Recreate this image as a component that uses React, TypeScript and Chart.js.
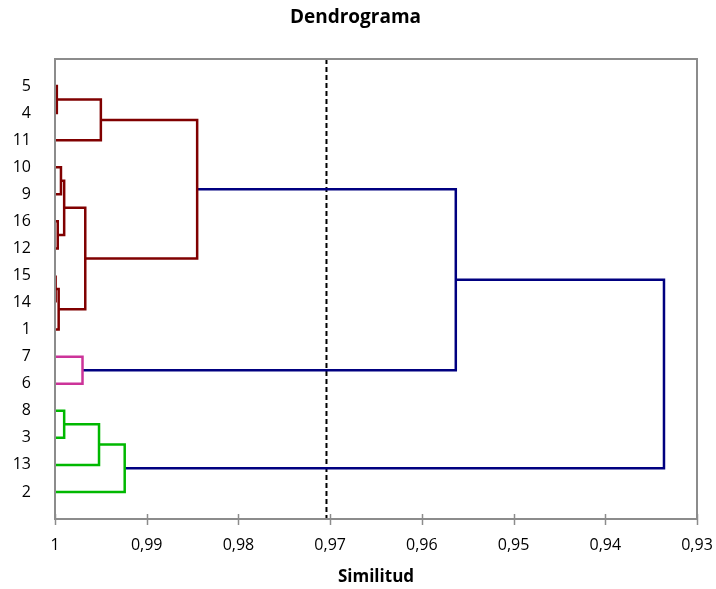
import React, { useEffect, useRef } from "react";
import { Chart, registerables } from "chart.js";

Chart.register(...registerables);

// Leaf labels, top to bottom
const leaves = ["5", "4", "11", "10", "9", "16", "12", "15", "14", "1", "7", "6", "8", "3", "13", "2"];

// Merges: ids 0..15 are leaves (in the order above), id 16+ are merges in this order
const mergeLeft = [0, 16, 3, 5, 18, 7, 21, 20, 17, 10, 24, 12, 27, 28, 26];
const mergeRight = [1, 2, 4, 6, 19, 8, 9, 22, 23, 11, 25, 13, 14, 15, 29];
const mergeHeight = [0.9998, 0.995, 0.99935, 0.9997, 0.999, 0.9999, 0.9996, 0.9967, 0.9845, 0.997, 0.9563, 0.999, 0.9952, 0.9924, 0.9336];
const mergeGroup = ["red", "red", "red", "red", "red", "red", "red", "red", "red", "pink", "navy", "green", "green", "green", "navy"];

const cutValue = 0.9704;

const xTickValues = [1, 0.99, 0.98, 0.97, 0.96, 0.95, 0.94, 0.93];
const xTickLabels = ["1", "0,99", "0,98", "0,97", "0,96", "0,95", "0,94", "0,93"];

const groupColors: Record<string, string> = {
  red: "#800000",
  pink: "#CC3399",
  green: "#00B800",
  navy: "#000080",
};

const FONT = "'Open Sans', 'DejaVu Sans', sans-serif";
const AXIS_GREY = "#8c8c8c";

export default function App() {
  const ref = useRef<HTMLCanvasElement | null>(null);

  useEffect(() => {
    document.body.style.margin = "0";
    const canvas = ref.current;
    if (!canvas) return;

    const n = leaves.length;
    const posY: number[] = [];
    const posX: number[] = [];
    for (let i = 0; i < n; i++) {
      posY[i] = i + 1;
      posX[i] = 1;
    }
    const datasets: any[] = [];
    for (let m = 0; m < mergeLeft.length; m++) {
      const a = mergeLeft[m];
      const b = mergeRight[m];
      const h = mergeHeight[m];
      datasets.push({
        data: [
          { x: posX[a], y: posY[a] },
          { x: h, y: posY[a] },
          { x: h, y: posY[b] },
          { x: posX[b], y: posY[b] },
        ],
        borderColor: groupColors[mergeGroup[m]],
        borderWidth: 2.5,
        showLine: true,
        pointRadius: 0,
        fill: false,
        tension: 0,
      });
      posY[n + m] = (posY[a] + posY[b]) / 2;
      posX[n + m] = h;
    }
    datasets.push({
      data: [
        { x: cutValue, y: 0 },
        { x: cutValue, y: n + 1 },
      ],
      borderColor: "#000000",
      borderWidth: 2,
      borderDash: [5, 3],
      showLine: true,
      pointRadius: 0,
      fill: false,
    });

    const borderPlugin = {
      id: "frame",
      afterDatasetsDraw(chart: any) {
        const { ctx, chartArea } = chart;
        const xs = chart.scales.x;
        ctx.save();
        ctx.strokeStyle = AXIS_GREY;
        ctx.lineWidth = 2;
        ctx.strokeRect(chartArea.left, chartArea.top, chartArea.right - chartArea.left, chartArea.bottom - chartArea.top);
        ctx.lineWidth = 1.5;
        for (const v of xTickValues) {
          const px = Math.round(xs.getPixelForValue(v)) + 0.5;
          ctx.beginPath();
          ctx.moveTo(px, chartArea.bottom - 5);
          ctx.lineTo(px, chartArea.bottom + 6);
          ctx.stroke();
        }
        ctx.restore();
      },
    };

    const chart = new Chart(canvas, {
      type: "scatter",
      data: { datasets },
      options: {
        animation: false,
        responsive: false,
        maintainAspectRatio: false,
        layout: { padding: { left: 14, right: 19, top: 0, bottom: 0 } },
        plugins: {
          legend: { display: false },
          tooltip: { enabled: false },
          title: {
            display: true,
            text: "Dendrograma",
            color: "#000",
            font: { family: FONT, size: 19, weight: "bold" },
            padding: { top: 6.6, bottom: 29.6 },
          },
        },
        scales: {
          x: {
            type: "linear",
            reverse: true,
            min: 0.93,
            max: 1,
            afterBuildTicks: (scale: any) => {
              scale.ticks = xTickValues.map((v) => ({ value: v }));
            },
            afterFit: (scale: any) => {
              scale.height = 70;
              scale.paddingLeft = 0;
              scale.paddingRight = 0;
            },
            ticks: {
              color: "#000",
              font: { family: FONT, size: 16 },
              padding: 17,
              maxRotation: 0,
              autoSkip: false,
              callback: (value: any) => {
                const i = xTickValues.findIndex((v) => Math.abs(v - Number(value)) < 1e-9);
                return i >= 0 ? xTickLabels[i] : "";
              },
            },
            grid: { drawOnChartArea: false, drawTicks: false, display: false },
            border: { display: false },
            title: {
              display: true,
              text: "Similitud",
              color: "#000",
              font: { family: FONT, size: 17, weight: "bold" },
              padding: { top: 0, bottom: 1.8 },
            },
          },
          y: {
            type: "linear",
            reverse: true,
            min: 0,
            max: n + 1,
            afterBuildTicks: (scale: any) => {
              scale.ticks = leaves.map((_, i) => ({ value: i + 1 }));
            },
            afterFit: (scale: any) => {
              scale.width = 41;
              scale.paddingTop = 0;
              scale.paddingBottom = 0;
            },
            ticks: {
              color: "#000",
              font: { family: FONT, size: 16 },
              padding: 24,
              autoSkip: false,
              callback: (value: any) => {
                const i = Math.round(Number(value)) - 1;
                return i >= 0 && i < leaves.length ? leaves[i] : "";
              },
            },
            grid: { display: false, drawTicks: false },
            border: { display: false },
          },
        },
      },
      plugins: [borderPlugin],
    } as any);

    return () => chart.destroy();
  }, []);

  return (
    <div style={{ width: 716, height: 589, background: "#fff" }}>
      <canvas ref={ref} width={716} height={589} style={{ display: "block" }} />
    </div>
  );
}
